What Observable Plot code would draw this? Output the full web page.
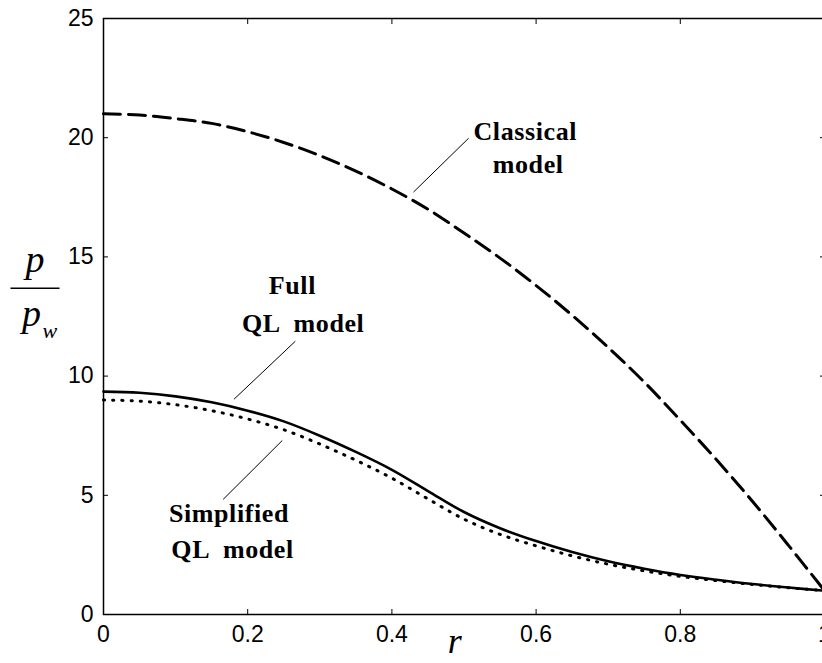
<!DOCTYPE html>
<html><head><meta charset="utf-8">
<script src="https://cdn.jsdelivr.net/npm/d3@7"></script>
<script src="https://cdn.jsdelivr.net/npm/@observablehq/plot@0.6"></script>
<style>
html,body{margin:0;padding:0;background:#fff;overflow:hidden;}
svg text{white-space:pre;}
g[font-weight="bold"] text{letter-spacing:0.6px;}
</style></head><body><div id="chart"></div>
<script>
// radial coordinate r
const r = [0,0.05,0.1,0.15,0.2,0.25,0.3,0.35,0.4,0.45,0.5,0.55,0.6,0.65,0.7,0.75,0.8,0.85,0.9,0.95,1.0];
// p/p_w, classical model (dashed)
const classical = [21.0,20.95,20.8,20.6,20.25,19.8,19.25,18.6,17.85,17.0,16.0,14.95,13.8,12.55,11.2,9.75,8.15,6.5,4.75,2.9,1.0];
// full QL model (solid)
const fullQL = [9.35,9.3,9.15,8.9,8.55,8.1,7.5,6.82,6.07,5.18,4.3,3.62,3.08,2.62,2.23,1.92,1.66,1.46,1.28,1.13,1.0];
// simplified QL model (dotted)
const simplifiedQL = [9.0,8.95,8.8,8.55,8.2,7.75,7.15,6.47,5.72,4.85,4.0,3.36,2.88,2.46,2.11,1.83,1.6,1.42,1.26,1.12,1.0];

const xTicks = [0,0.2,0.4,0.6,0.8,1];
const yTicks = [0,5,10,15,20,25];

// annotation labels (data units)
const labelText = ["Classical","model","Full","QL  model","Simplified","QL  model"];
const labelX = [0.585,0.589,0.262,0.277,0.174,0.179];
const labelY = [19.9,18.51,13.43,11.84,3.86,2.39];
// leader lines (data units)
const leaderX1 = [0.5065,0.266,0.248];
const leaderY1 = [19.98,11.46,7.30];
const leaderX2 = [0.430,0.181,0.166];
const leaderY2 = [17.72,9.03,4.83];

const series = [
  {name:"classical", values: classical},
  {name:"full", values: fullQL},
  {name:"simplified", values: simplifiedQL}
];
const rows = s => r.map((x,i)=>({r:x, p:s.values[i]}));
const labels = labelText.map((t,i)=>({t, x:labelX[i], y:labelY[i]}));
const leaders = leaderX1.map((_,i)=>({x1:leaderX1[i],y1:leaderY1[i],x2:leaderX2[i],y2:leaderY2[i]}));

const tickFont = "'Liberation Sans Narrow','Liberation Sans',Arial,sans-serif";
const serif = "'Liberation Serif','Times New Roman',serif";

const chart = Plot.plot({
  width: 822, height: 663,
  marginLeft: 103, marginRight: -2, marginTop: 18, marginBottom: 49,
  style: {background:"#fff", color:"#000", fontFamily: tickFont, fontSize:"23px"},
  x: {domain:[0,1]},
  y: {domain:[0,25]},
  marks: [
    Plot.frame({stroke:"#000", strokeWidth:1.5}),
    Plot.axisX(xTicks, {anchor:"bottom", tickSize:-5, tickPadding:16, tickFormat:d=>String(d), label:null, fontSize:23}),
    Plot.axisX(xTicks, {anchor:"top", tickSize:-5, tickFormat:null, text:null, label:null}),
    Plot.axisY(yTicks, {anchor:"left", tickSize:-5, tickPadding:15, tickFormat:d=>String(d), label:null, fontSize:23}),
    Plot.axisY(yTicks, {anchor:"right", tickSize:-5, text:null, label:null}),
    Plot.line(rows(series[0]), {x:"r", y:"p", stroke:"#000", strokeWidth:3, strokeDasharray:"17,8", curve:"catmull-rom"}),
    Plot.line(rows(series[2]), {x:"r", y:"p", stroke:"#000", strokeWidth:3, strokeDasharray:"1.2,8", curve:"catmull-rom"}),
    Plot.line(rows(series[1]), {x:"r", y:"p", stroke:"#000", strokeWidth:2.6, curve:"catmull-rom"}),
    Plot.link(leaders, {x1:"x1", y1:"y1", x2:"x2", y2:"y2", stroke:"#000", strokeWidth:1}),
    Plot.text(labels, {x:"x", y:"y", text:"t", textAnchor:"middle", lineAnchor:"bottom", fontFamily:serif, fontWeight:"bold", fontSize:26}),
    // axis labels
    Plot.text(["r"], {x:[0.487], y:[-1.6], text:d=>d, fontFamily:serif, fontStyle:"italic", fontSize:36, lineAnchor:"bottom"}),
    Plot.text(["p"], {x:[-0.095], y:[14.36], text:d=>d, fontFamily:serif, fontStyle:"italic", fontSize:38, lineAnchor:"bottom"}),
    Plot.link([0], {x1:[-0.129], x2:[-0.061], y1:[13.69], y2:[13.69], stroke:"#000", strokeWidth:1.5}),
    Plot.text(["p"], {x:[-0.1], y:[12.1], text:d=>d, fontFamily:serif, fontStyle:"italic", fontSize:38, lineAnchor:"bottom"}),
    Plot.text(["w"], {x:[-0.0745], y:[11.6], text:d=>d, fontFamily:serif, fontStyle:"italic", fontSize:22, lineAnchor:"bottom"})
  ]
});
document.getElementById("chart").appendChild(chart);
</script></body></html>
